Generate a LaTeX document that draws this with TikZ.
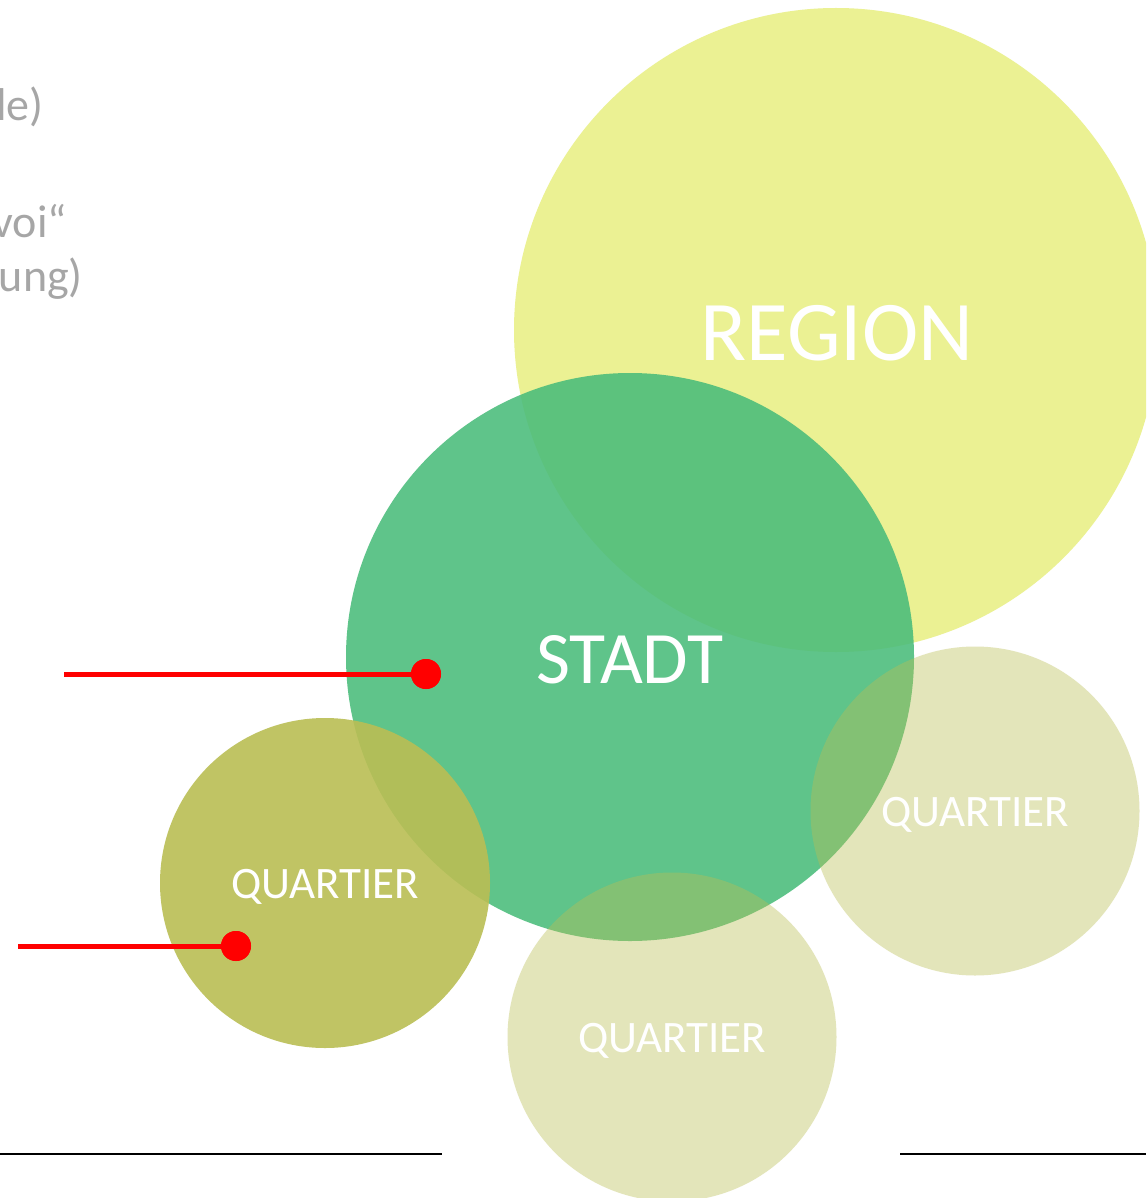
\documentclass[tikz,border=0pt]{standalone}
\usepackage{fontspec}
\setmainfont{Carlito}
\definecolor{regionc}{RGB}{235,241,147}
\definecolor{stadtc}{RGB}{73,188,122}
\definecolor{quartc}{RGB}{186,190,84}
\definecolor{greytext}{RGB}{166,166,166}
\begin{document}
\begin{tikzpicture}[x=1pt,y=-1pt,
  bubble/.style={circle, inner sep=0pt, minimum size=#1},
  lbl/.style={text=white, font=\fontsize{#1}{#1}\selectfont},
  side/.style={text=greytext, font=\fontsize{46}{52}\selectfont, anchor=base east, inner sep=0pt},
  marker/.style={circle, fill=red, inner sep=0pt, minimum size=30pt},
  redline/.style={draw=red, line width=5pt},
  rule/.style={draw=black, line width=2pt}]
\clip (0,0) rectangle (1146,1198);
\fill[white] (0,0) rectangle (1146,1198);
% circles
\node[bubble=644pt, fill=regionc] (region) at (836,330) {};
\node[bubble=568pt, fill=stadtc, fill opacity=0.88] (stadt) at (630,657) {};
\node[bubble=330pt, fill=quartc, fill opacity=0.9] (q1) at (325,883) {};
\node[bubble=329pt, fill=quartc, fill opacity=0.4] (q2) at (975,811) {};
\node[bubble=329pt, fill=quartc, fill opacity=0.4] (q3) at (672,1037) {};
% labels
\node[lbl=85] (tregion) at (837,333) {REGION};
\node[lbl=74] (tstadt) at (630,660) {STADT};
\node[lbl=45] (tq1) at (325,887) {QUARTIER};
\node[lbl=45] (tq2) at (975,815) {QUARTIER};
\node[lbl=45] (tq3) at (672,1041) {QUARTIER};
% side text (cut off at left)
\node[side] (s1) at (44,121) {le)};
\node[side] (s2) at (67,237) {voi“};
\node[side] (s3) at (83,291) {ung)};
% red markers
\coordinate (r1s) at (64,674);
\node[marker] (m1) at (426,674) {};
\draw[redline] (r1s) -- (m1.center);
\node[marker] (m1b) at (426,674) {};
\coordinate (r2s) at (18,946);
\node[marker] (m2) at (236,946) {};
\draw[redline] (r2s) -- (m2.center);
\node[marker] (m2b) at (236,946) {};
% bottom rules
\coordinate (b1s) at (0,1154);
\coordinate (b1e) at (442,1154);
\coordinate (b2s) at (900,1154);
\coordinate (b2e) at (1146,1154);
\draw[rule] (b1s) -- (b1e);
\draw[rule] (b2s) -- (b2e);
\end{tikzpicture}
\end{document}
